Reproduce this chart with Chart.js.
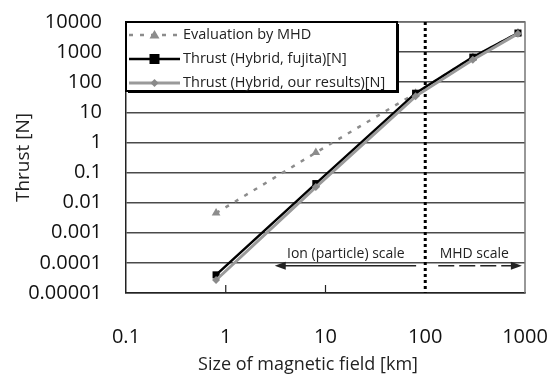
<!DOCTYPE html>
<html>
<head>
<meta charset="utf-8">
<script src="https://cdn.jsdelivr.net/npm/chart.js@4.4.1/dist/chart.umd.min.js"></script>
<style>
html, body { margin: 0; padding: 0; background: #fff; }
</style>
</head>
<body>
<canvas id="myChart" width="556" height="376"></canvas>
<script>
// size of magnetic field [km]
const sizes = [0.8, 8, 80, 300, 850];
// thrust [N]
const mhdThrust = [0.0045, 0.46, 43, 680, 4300];
const fujitaThrust = [0.00004, 0.043, 43, 680, 4300];
const oursThrust = [0.000027, 0.033, 34, 560, 4100];

const xTicks = [0.1, 1, 10, 100, 1000];
const xTickLabels = ["0.1", "1", "10", "100", "1000"];
const yTicks = [0.00001, 0.0001, 0.001, 0.01, 0.1, 1, 10, 100, 1000, 10000];
const yTickLabels = ["0.00001", "0.0001", "0.001", "0.01", "0.1", "1", "10", "100", "1000", "10000"];

// regime boundary and the scale arrows (data units)
const boundary = 100;
const arrowLevel = 0.00008;
const ionArrow = [3.1, 81];
const mhdArrow = [135, 930];
const labelLevel = 0.0002;
const ionLabelX = 16;
const mhdLabelX = 310;

const pts = (ys) => sizes.map((x, i) => ({ x: x, y: ys[i] }));
const FONT = "'Open Sans', sans-serif";

function arrowHead(ctx, x, y, dir) {
    ctx.beginPath();
    ctx.moveTo(x, y);
    ctx.lineTo(x - dir * 11, y - 4);
    ctx.lineTo(x - dir * 11, y + 4);
    ctx.closePath();
    ctx.fill();
}

const overlay = {
    id: "overlay",
    beforeDatasetsDraw(chart) {
        const { ctx, chartArea: a, scales: { x, y } } = chart;
        ctx.save();
        // right/top frame
        ctx.strokeStyle = "#777";
        ctx.lineWidth = 1.5;
        ctx.beginPath();
        ctx.moveTo(a.left, a.top);
        ctx.lineTo(a.right, a.top);
        ctx.lineTo(a.right, a.bottom);
        ctx.stroke();
        // small inner ticks on the x axis
        ctx.strokeStyle = "#222";
        ctx.lineWidth = 1.2;
        xTicks.slice(1, 3).forEach((v) => {
            const px = x.getPixelForValue(v);
            ctx.beginPath();
            ctx.moveTo(px, a.bottom);
            ctx.lineTo(px, a.bottom - 8);
            ctx.stroke();
        });
        // boundary dotted line
        const bx = x.getPixelForValue(boundary);
        ctx.strokeStyle = "#000";
        ctx.lineWidth = 3;
        ctx.setLineDash([3, 3]);
        ctx.beginPath();
        ctx.moveTo(bx, a.top);
        ctx.lineTo(bx, a.bottom);
        ctx.stroke();
        // arrows
        const ay = y.getPixelForValue(arrowLevel);
        ctx.lineWidth = 1.5;
        ctx.setLineDash([]);
        ctx.strokeStyle = "#222";
        ctx.fillStyle = "#222";
        const i0 = x.getPixelForValue(ionArrow[0]);
        const i1 = x.getPixelForValue(ionArrow[1]);
        ctx.beginPath();
        ctx.moveTo(i1, ay);
        ctx.lineTo(i0 + 8, ay);
        ctx.stroke();
        arrowHead(ctx, i0, ay, -1);
        const m0 = x.getPixelForValue(mhdArrow[0]);
        const m1 = x.getPixelForValue(mhdArrow[1]);
        ctx.setLineDash([16, 5]);
        ctx.beginPath();
        ctx.moveTo(m0, ay);
        ctx.lineTo(m1 - 8, ay);
        ctx.stroke();
        ctx.setLineDash([]);
        arrowHead(ctx, m1, ay, 1);
        // labels
        ctx.font = "14px " + FONT;
        ctx.fillStyle = "#222";
        ctx.textAlign = "center";
        ctx.textBaseline = "middle";
        const ly = y.getPixelForValue(labelLevel);
        ctx.fillText("Ion (particle) scale", x.getPixelForValue(ionLabelX), ly);
        ctx.fillText("MHD scale", x.getPixelForValue(mhdLabelX), ly);
        ctx.restore();
    },
    afterDatasetsDraw(chart) {
        const { ctx, chartArea: a } = chart;
        ctx.save();
        // legend box
        const bx = a.left, by = a.top, bw = 271, bh = 69;
        ctx.fillStyle = "#000";
        ctx.fillRect(bx + 2, by + 2, bw, bh);
        ctx.fillStyle = "#fff";
        ctx.fillRect(bx, by, bw, bh);
        ctx.strokeStyle = "#000";
        ctx.lineWidth = 2;
        ctx.strokeRect(bx, by, bw, bh);
        ctx.font = "14.5px " + FONT;
        ctx.textBaseline = "middle";
        ctx.textAlign = "left";
        chart.data.datasets.forEach((ds, i) => {
            const ry = by + 13 + i * 24;
            const x0 = bx + 3, x1 = bx + 54, xm = (x0 + x1) / 2;
            ctx.strokeStyle = ds.borderColor;
            ctx.lineWidth = ds.borderWidth;
            ctx.setLineDash(ds.borderDash || []);
            ctx.beginPath();
            ctx.moveTo(x0, ry);
            ctx.lineTo(x1, ry);
            ctx.stroke();
            ctx.setLineDash([]);
            ctx.fillStyle = ds.pointBackgroundColor;
            const r = ds.pointRadius;
            ctx.beginPath();
            if (ds.pointStyle === "triangle") {
                ctx.moveTo(xm, ry - r);
                ctx.lineTo(xm + r, ry + r * 0.7);
                ctx.lineTo(xm - r, ry + r * 0.7);
            } else if (ds.pointStyle === "rect") {
                ctx.rect(xm - r, ry - r, 2 * r, 2 * r);
            } else {
                ctx.moveTo(xm, ry - r);
                ctx.lineTo(xm + r, ry);
                ctx.lineTo(xm, ry + r);
                ctx.lineTo(xm - r, ry);
            }
            ctx.closePath();
            ctx.fill();
            ctx.fillStyle = "#222";
            ctx.fillText(ds.label, x1 + 3, ry);
        });
        // x axis title
        ctx.font = "18px " + FONT;
        ctx.textAlign = "center";
        ctx.fillText("Size of magnetic field [km]", 308, 365);
        ctx.restore();
    }
};

new Chart("myChart", {
    type: "line",
    data: {
        datasets: [
            {
                label: "Evaluation by MHD",
                data: pts(mhdThrust),
                borderColor: "#8c8c8c",
                borderWidth: 2.5,
                borderDash: [4, 7],
                pointStyle: "triangle",
                pointRadius: 5,
                pointBackgroundColor: "#8c8c8c",
                pointBorderWidth: 0,
                order: 2,
            },
            {
                label: "Thrust (Hybrid, fujita)[N]",
                data: pts(fujitaThrust),
                borderColor: "#000",
                borderWidth: 2.5,
                pointStyle: "rect",
                pointRadius: 5,
                pointBackgroundColor: "#000",
                pointBorderWidth: 0,
                order: 1,
            },
            {
                label: "Thrust (Hybrid, our results)[N]",
                data: pts(oursThrust),
                borderColor: "#9a9a9a",
                borderWidth: 3,
                pointStyle: "rectRot",
                pointRadius: 4,
                pointBackgroundColor: "#8a8a8a",
                pointBorderWidth: 0,
                order: 0,
            },
        ],
    },
    options: {
        responsive: false,
        animation: false,
        layout: { padding: { left: 0, right: 31, top: 22, bottom: 0 } },
        plugins: { legend: { display: false }, tooltip: { enabled: false } },
        scales: {
            x: {
                type: "logarithmic",
                min: 0.1,
                max: 1000,
                afterBuildTicks: (s) => { s.ticks = xTicks.map((v) => ({ value: v })); },
                afterFit: (s) => {
                    s.height = 83;
                    s.paddingLeft = 0;
                    s.paddingRight = 0;
                },
                ticks: {
                    autoSkip: false,
                    maxRotation: 0,
                    padding: 24,
                    color: "#111",
                    font: { family: FONT, size: 20 },
                    callback: (v) => xTickLabels[xTicks.indexOf(v)],
                },
                grid: { display: false },
                border: { display: true, color: "#222", width: 1.5 },
            },
            y: {
                type: "logarithmic",
                min: 0.00001,
                max: 10000,
                afterBuildTicks: (s) => { s.ticks = yTicks.map((v) => ({ value: v })); },
                afterFit: (s) => {
                    s.width = 126;
                    s.paddingTop = 0;
                    s.paddingBottom = 0;
                },
                ticks: {
                    autoSkip: false,
                    padding: 24,
                    color: "#111",
                    font: { family: FONT, size: 20 },
                    callback: (v) => yTickLabels[yTicks.indexOf(v)],
                },
                grid: { color: "#4a4a4a", lineWidth: 1.5, drawTicks: false },
                border: { display: true, color: "#222", width: 1.5 },
                title: {
                    display: true,
                    text: "Thrust [N]",
                    color: "#222",
                    font: { family: FONT, size: 19 },
                    padding: { top: 12 },
                },
            },
        },
    },
    plugins: [overlay],
});
</script>
</body>
</html>
